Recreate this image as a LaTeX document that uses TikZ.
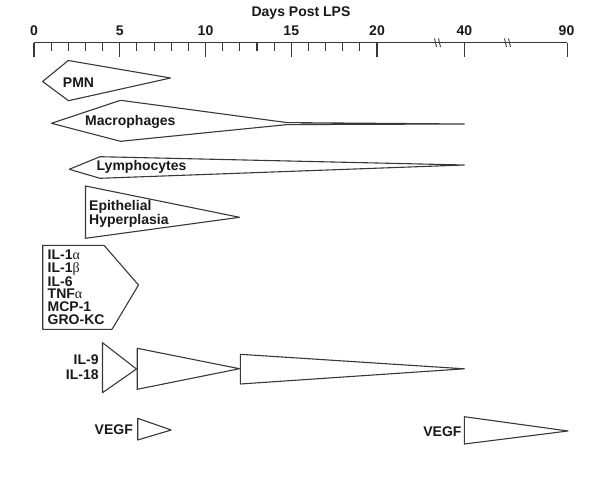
\documentclass[tikz,border=0pt]{standalone}
\usepackage{fontspec}
\setmainfont{Liberation Sans}
\newfontfamily\grk{Liberation Serif}
\begin{document}
\begin{tikzpicture}[x=1pt,y=-1pt,
  shp/.style={draw=black!78, line width=1.1pt, line join=round},
  axl/.style={draw=black!78, line width=1.1pt},
  lbl/.style={font=\bfseries\fontsize{14}{14}\selectfont, inner sep=0pt, text=black!90},
]
\useasboundingbox (0,0) rectangle (600,484);
% title and axis
\node[lbl] (title) at (301,13.5) {Days Post LPS};
\coordinate (a0) at (34,42.7);
\coordinate (a90) at (567.3,42.7);
\draw[axl] (a0) -- (a90);
\foreach \d in {1,2,3,4,6,7,8,9,11,12,13,14,16,17,18,19}
  \draw[axl] ({34+17.15*\d},42.7) -- ({34+17.15*\d},50.7);
\foreach \d in {0,5,10,15,20}{
  \draw[axl] ({34+17.15*\d},42.7) -- ({34+17.15*\d},57);
  \node[lbl] (n\d) at ({34+17.15*\d},30.5) {\d};
}
\draw[axl] (464.3,42.7) -- (464.3,57);
\node[lbl] (n40) at (464.3,30.5) {40};
\draw[axl] (567.3,42.7) -- (567.3,57);
\node[lbl] (n90) at (566.5,30.5) {90};
% break marks
\foreach \bx in {438,508}{
  \draw[draw=black!78, line width=0.9pt] (\bx-3.5,38.5) -- (\bx-1.5,47);
  \draw[draw=black!78, line width=0.9pt] (\bx+0.5,38.5) -- (\bx+2.5,47);
}
% PMN
\draw[shp] (42.6,81.5) -- (68.3,60.5) -- (170.5,78) -- (68.5,100.7) -- cycle;
\node[lbl] (pmn) at (78.5,82.7) {PMN};
% Macrophages
\draw[shp] (51.5,123.3) -- (120.5,100.3) -- (287,122.6) -- (464.3,124) -- (287,124.6) -- (120.5,141.3) -- cycle;
\node[lbl, anchor=west] (mac) at (85,121.7) {Macrophages};
% Lymphocytes
\draw[shp] (69.3,169.3) -- (100,156.7) -- (464.3,165) -- (100,178.3) -- cycle;
\node[lbl, anchor=west] (lym) at (96.5,167.3) {Lymphocytes};
% Epithelial hyperplasia
\draw[shp] (85.5,186) -- (239.5,217.3) -- (85.5,238.3) -- cycle;
\node[lbl, anchor=west, align=left, font=\bfseries\fontsize{14}{14}\selectfont] (epi) at (89,213.7) {Epithelial\\Hyperplasia};
% Cytokines
\draw[shp] (42.7,245.3) -- (104,245.3) -- (138.5,285) -- (112,329.3) -- (42.7,329.3) -- cycle;
\node[lbl, anchor=west, align=left, font=\bfseries\fontsize{14}{12.7}\selectfont] (cyt) at (47.5,287.3)
  {IL-1{\grk\mdseries α}\\IL-1{\grk\mdseries β}\\IL-6\\TNF{\grk\mdseries α}\\MCP-1\\GRO-KC};
% IL-9 / IL-18
\draw[shp] (102.5,342.7) -- (136.5,369) -- (102.5,392.7) -- cycle;
\draw[shp] (137.2,348.3) -- (239.5,368.7) -- (137.2,389.3) -- cycle;
\draw[shp] (240.3,354.3) -- (464.3,368.8) -- (240.3,384) -- cycle;
\node[lbl, anchor=east, align=right, font=\bfseries\fontsize{14}{14.3}\selectfont] (il) at (98.8,367.2) {IL-9\\IL-18};
% VEGF
\draw[shp] (137.7,418.3) -- (171.2,430) -- (137.7,440) -- cycle;
\node[lbl, anchor=east] (v1) at (133,430) {VEGF};
\draw[shp] (464.3,416.7) -- (568,431) -- (464.3,444) -- cycle;
\node[lbl, anchor=east] (v2) at (461.7,431.5) {VEGF};
\end{tikzpicture}
\end{document}
